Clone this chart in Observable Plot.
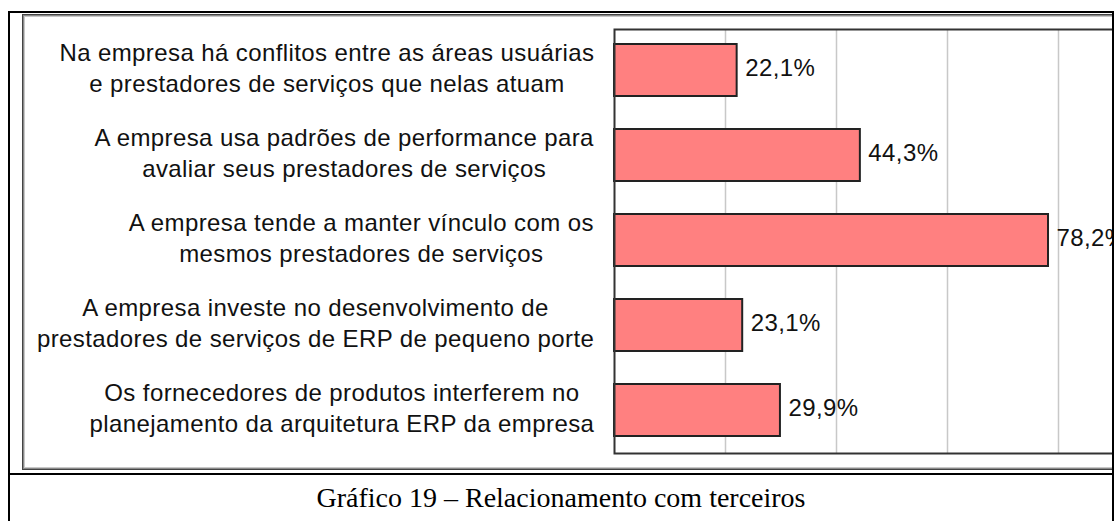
<!DOCTYPE html>
<html><head><meta charset="utf-8">
<script src="https://cdn.jsdelivr.net/npm/d3@7"></script>
<script src="https://cdn.jsdelivr.net/npm/@observablehq/plot@0.6"></script>
<style>
body{margin:0;background:#fff;}
#wrap{position:relative;width:1115px;height:521px;overflow:hidden;background:#fff;}
.b{position:absolute;background:#000;}
#clip{position:absolute;left:10px;top:13px;width:1102px;height:460px;overflow:hidden;}
#frame{position:absolute;left:12px;top:1px;width:1200px;height:456px;box-sizing:border-box;border:1px solid #444;box-shadow:inset 0 0 0 1px #8a8a8a, inset 0 0 0 2px #c8c8c8;background:#fff;}
#chart{position:absolute;left:-10px;top:-13px;width:1170px;height:470px;}
#chart svg{max-width:none !important;}
#chart svg text{letter-spacing:0.4px;}
#caption{position:absolute;left:10px;top:475px;width:1102px;height:46px;display:flex;align-items:center;justify-content:center;font-family:"Liberation Serif","Times New Roman",serif;font-size:28px;color:#000;}
</style>
</head><body>
<div id="wrap">
  <div id="clip"><div id="frame"></div><div id="chart"></div></div>
  <div class="b" style="left:8px;top:11px;width:2px;height:510px;"></div>
  <div class="b" style="left:8px;top:11px;width:1106px;height:2px;"></div>
  <div class="b" style="left:1112px;top:11px;width:2px;height:510px;"></div>
  <div class="b" style="left:8px;top:473px;width:1106px;height:2px;"></div>
  <div id="caption">Gráfico 19 – Relacionamento com terceiros</div>
</div>
<script>
const categories = [
  "Na empresa há conflitos entre as áreas usuárias\ne prestadores de serviços que nelas atuam",
  "A empresa usa padrões de performance para\navaliar seus prestadores de serviços",
  "A empresa tende a manter vínculo com os\nmesmos prestadores de serviços",
  "A empresa investe no desenvolvimento de\nprestadores de serviços de ERP de pequeno porte",
  "Os fornecedores de produtos interferem no\nplanejamento da arquitetura ERP da empresa"
];
const values = [22.1, 44.3, 78.2, 23.1, 29.9];
const gridTicks = [20, 40, 60, 80];

const data = categories.map((label, i) => ({label, value: values[i]}));
const fmt = v => v.toFixed(1).replace(".", ",") + "%";

const FONT = "24px 'Liberation Sans'";
const LS = 0.4;
const ctx = document.createElement("canvas").getContext("2d");
ctx.font = FONT;
const blockWidth = s => d3.max(s.split("\n"), line => ctx.measureText(line).width + LS * line.length);
const gap = 20;

const labelMarks = data.map(d => Plot.text([d], {
  frameAnchor: "left", y: "label", text: "label", textAnchor: "middle",
  dx: -(gap + blockWidth(d.label) / 2), dy: -4, lineHeight: 1.3, fontSize: 24, fill: "#111"
}));

const chart = Plot.plot({
  width: 1170, height: 470,
  marginLeft: 614, marginRight: 1, marginTop: 29, marginBottom: 17,
  style: {background: "transparent", fontFamily: "'Liberation Sans', Arial, sans-serif", overflow: "visible", maxWidth: "none"},
  x: {domain: [0, 100], axis: null},
  y: {domain: categories, paddingInner: 0.39, paddingOuter: 0.187, align: 0.47, axis: null},
  marks: [
    Plot.ruleX(gridTicks, {stroke: "#c8c8c8", strokeWidth: 1.5}),
    Plot.barX(data, {x: "value", y: "label", fill: "#ff8080", stroke: "#222", strokeWidth: 2}),
    Plot.frame({stroke: "#333", strokeWidth: 2}),
    Plot.text(data, {x: "value", y: "label", text: d => fmt(d.value), dx: 8, dy: -2, textAnchor: "start", fontSize: 24, fill: "#111"}),
    ...labelMarks
  ]
});
document.getElementById("chart").appendChild(chart);
</script>
</body></html>
